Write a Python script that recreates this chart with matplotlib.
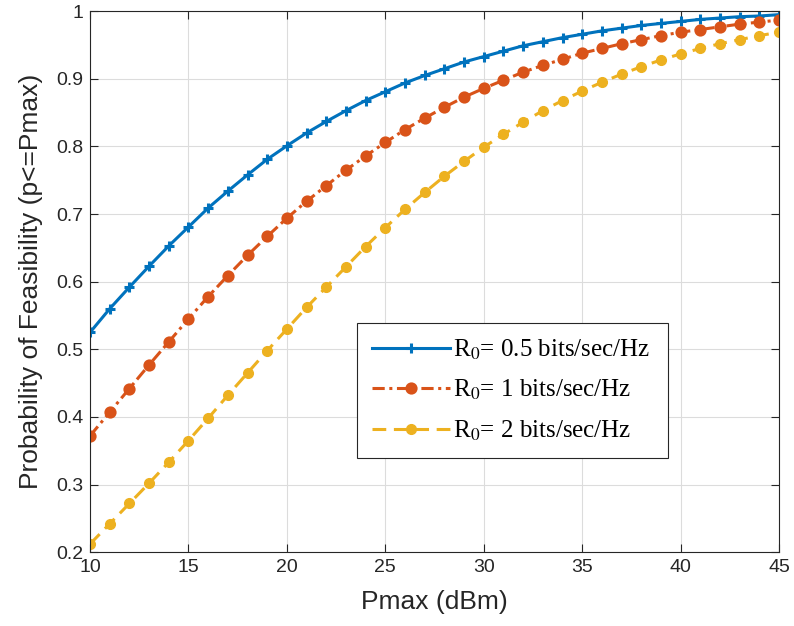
import numpy as np
import matplotlib
matplotlib.use('Agg')
import matplotlib.pyplot as plt

pmax = list(range(10, 46))

r05 = [0.525, 0.560, 0.592, 0.623, 0.653, 0.681, 0.709, 0.734, 0.758, 0.781,
       0.801, 0.820, 0.837, 0.853, 0.868, 0.881, 0.894, 0.905, 0.915, 0.925,
       0.933, 0.941, 0.949, 0.955, 0.961, 0.966, 0.971, 0.975, 0.979, 0.982,
       0.985, 0.988, 0.990, 0.992, 0.993, 0.995]
r1 = [0.372, 0.407, 0.442, 0.477, 0.511, 0.545, 0.578, 0.609, 0.639, 0.667,
      0.694, 0.719, 0.742, 0.765, 0.786, 0.806, 0.825, 0.842, 0.858, 0.873,
      0.886, 0.898, 0.910, 0.920, 0.929, 0.938, 0.945, 0.952, 0.958, 0.964,
      0.969, 0.973, 0.977, 0.981, 0.984, 0.987]
r2 = [0.212, 0.242, 0.272, 0.302, 0.333, 0.365, 0.398, 0.432, 0.465, 0.498,
      0.530, 0.562, 0.592, 0.622, 0.652, 0.680, 0.707, 0.732, 0.756, 0.778,
      0.799, 0.818, 0.836, 0.853, 0.868, 0.882, 0.895, 0.907, 0.918, 0.928,
      0.937, 0.945, 0.952, 0.958, 0.964, 0.969]

labels = ['R$_0$= 0.5 bits/sec/Hz', 'R$_0$= 1 bits/sec/Hz', 'R$_0$= 2 bits/sec/Hz']

plt.rcParams['font.family'] = ['Liberation Sans', 'DejaVu Sans']
plt.rcParams['mathtext.fontset'] = 'stix'

fig = plt.figure(figsize=(7.94, 6.26), dpi=100)
ax = fig.add_axes([0.1134, 0.118, 0.8678, 0.864])

ax.plot(pmax, r05, color='#0072BD', lw=2.2, ls='-', marker='+', ms=7, mew=2.2,
        label=labels[0])
ax.plot(pmax, r1, color='#D95319', lw=2.2, ls=(0, (4, 1.5, 1, 1.5)), marker='o', ms=7,
        mew=1.8, mfc='#D95319', label=labels[1])
ax.plot(pmax, r2, color='#EDB120', lw=2.2, ls=(0, (4.5, 2.5)), marker='.', ms=14,
        label=labels[2])

ax.set_xlim(10, 45)
ax.set_ylim(0.2, 1)
ax.set_xticks(np.arange(10, 46, 5))
ax.set_yticks(np.arange(0.2, 1.01, 0.1))
ax.set_yticklabels(['0.2', '0.3', '0.4', '0.5', '0.6', '0.7', '0.8', '0.9', '1'])
ax.grid(True, color='#dcdcdc', lw=0.8)
ax.set_axisbelow(True)
ax.tick_params(direction='in', top=True, right=True, labelsize=14, length=6,
               color='#262626', labelcolor='#262626', pad=5)
for s in ax.spines.values():
    s.set_color('#262626')
    s.set_linewidth(0.8)

ax.set_xlabel('Pmax (dBm)', fontsize=19, color='#262626', labelpad=10)
ax.set_ylabel('Probability of Feasibility (p<=Pmax)', fontsize=19, color='#262626',
              labelpad=9)

leg = ax.legend(loc='lower left', bbox_to_anchor=(0.3875, 0.174, 0.4514, 0.251),
                mode='expand', prop={'family': 'Liberation Serif', 'size': 18},
                fancybox=False, framealpha=1, edgecolor='#262626', handlelength=3.1,
                handletextpad=0.12, borderaxespad=0, labelspacing=0.65,
                borderpad=0.6)
leg.get_frame().set_linewidth(0.8)

fig.savefig('out.png', dpi=100)
